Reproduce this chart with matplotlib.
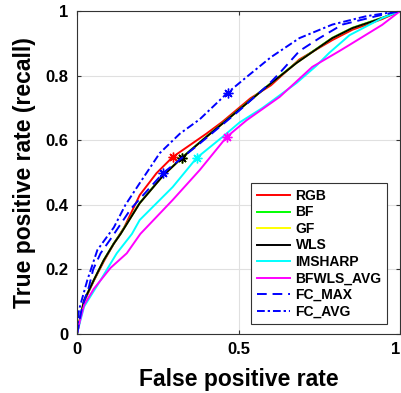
import matplotlib.pyplot as plt

plt.rcParams['font.family'] = ['Liberation Sans', 'DejaVu Sans']
plt.rcParams['font.weight'] = 'bold'

# ROC curves (false positive rate, true positive rate)
rgb_x = [0, 0.01, 0.022, 0.052, 0.083, 0.114, 0.146, 0.194, 0.246, 0.296, 0.40, 0.45, 0.537, 0.60, 0.688, 0.79, 0.852, 0.944, 1.0]
rgb_y = [0, 0.05, 0.10, 0.165, 0.225, 0.28, 0.33, 0.43, 0.498, 0.548, 0.62, 0.657, 0.73, 0.77, 0.85, 0.91, 0.942, 0.975, 1.0]
rgb_star = 9

wls_x = [0, 0.01, 0.022, 0.052, 0.083, 0.114, 0.135, 0.194, 0.266, 0.324, 0.40, 0.463, 0.574, 0.679, 0.79, 0.852, 0.944, 1.0]
wls_y = [0, 0.05, 0.104, 0.167, 0.229, 0.28, 0.31, 0.405, 0.49, 0.545, 0.61, 0.662, 0.755, 0.839, 0.916, 0.947, 0.978, 1.0]
wls_star = 9

bf_x = wls_x
bf_y = [0, 0.05, 0.104, 0.167, 0.229, 0.281, 0.311, 0.406, 0.491, 0.546, 0.611, 0.663, 0.756, 0.84, 0.917, 0.948, 0.979, 1.0]
gf_x = wls_x
gf_y = wls_y

ims_x = [0, 0.01, 0.022, 0.073, 0.123, 0.17, 0.194, 0.296, 0.37, 0.45, 0.503, 0.574, 0.679, 0.74, 0.78, 0.843, 0.944, 1.0]
ims_y = [0, 0.04, 0.085, 0.167, 0.25, 0.31, 0.353, 0.455, 0.545, 0.61, 0.655, 0.70, 0.777, 0.83, 0.87, 0.925, 0.978, 1.0]
ims_star = 8

avg_x = [0, 0.01, 0.022, 0.052, 0.104, 0.154, 0.196, 0.296, 0.38, 0.463, 0.525, 0.627, 0.728, 0.81, 0.843, 0.944, 1.0]
avg_y = [0, 0.045, 0.09, 0.14, 0.205, 0.25, 0.31, 0.415, 0.508, 0.61, 0.662, 0.734, 0.827, 0.875, 0.895, 0.957, 1.0]
avg_star = 9

fcmax_x = [0, 0.016, 0.037, 0.05, 0.073, 0.108, 0.167, 0.266, 0.38, 0.50, 0.59, 0.627, 0.688, 0.75, 0.821, 0.926, 1.0]
fcmax_y = [0, 0.085, 0.146, 0.20, 0.25, 0.30, 0.388, 0.498, 0.59, 0.69, 0.77, 0.808, 0.876, 0.916, 0.958, 0.984, 1.0]
fcmax_star = 7

fcavg_x = [0, 0.006, 0.032, 0.063, 0.092, 0.114, 0.15, 0.194, 0.256, 0.318, 0.38, 0.466, 0.53, 0.60, 0.688, 0.79, 0.895, 1.0]
fcavg_y = [0, 0.074, 0.167, 0.26, 0.30, 0.33, 0.40, 0.467, 0.56, 0.62, 0.665, 0.747, 0.80, 0.857, 0.916, 0.958, 0.984, 1.0]
fcavg_star = 11

fig = plt.figure(figsize=(4.01, 3.93), dpi=100)
ax = fig.add_axes([0.192, 0.15, 0.806, 0.822])

star = dict(marker=(8, 2, 0), ms=7, mew=1.0)
lw = 1.4
ax.plot(rgb_x, rgb_y, color='red', lw=lw, label='RGB', markevery=[rgb_star], **star)
ax.plot(bf_x, bf_y, color='#00ff00', lw=lw, label='BF', markevery=[wls_star], **star)
ax.plot(gf_x, gf_y, color='#ffff00', lw=lw, label='GF', markevery=[wls_star], **star)
ax.plot(wls_x, wls_y, color='black', lw=lw, label='WLS', markevery=[wls_star], **star)
ax.plot(ims_x, ims_y, color='cyan', lw=lw, label='IMSHARP', markevery=[ims_star], **star)
ax.plot(avg_x, avg_y, color='magenta', lw=lw, label='BFWLS_AVG', markevery=[avg_star], **star)
ax.plot(fcmax_x, fcmax_y, color='blue', lw=lw, ls=(0, (5, 3)), label='FC_MAX', markevery=[fcmax_star], **star)
ax.plot(fcavg_x, fcavg_y, color='blue', lw=lw, ls=(0, (4, 1.5, 1.2, 1.5)), label='FC_AVG', markevery=[fcavg_star], **star)

ax.set_xlim(0, 1)
ax.set_ylim(0, 1)
ax.set_xticks([0, 0.5, 1])
ax.set_xticklabels(['0', '0.5', '1'])
ax.set_yticks([0, 0.2, 0.4, 0.6, 0.8, 1])
ax.set_yticklabels(['0', '0.2', '0.4', '0.6', '0.8', '1'])
ax.tick_params(labelsize=12, direction='in', top=True, right=True, length=3, pad=6, color='#333333')
ax.get_xticklabels()[-1].set_horizontalalignment('right')
ax.grid(True, color='#e0e0e0', lw=0.8)
ax.set_axisbelow(True)
for s in ax.spines.values():
    s.set_color('#333333')
ax.set_xlabel('False positive rate', fontsize=16.5, fontweight='bold', labelpad=8)
ax.set_ylabel('True positive rate (recall)', fontsize=16.5, fontweight='bold', labelpad=7)

leg = ax.legend(loc='lower right', bbox_to_anchor=(0.96, 0.031), borderaxespad=0,
                prop={'weight': 'bold', 'size': 10},
                fancybox=False, framealpha=1, edgecolor='#333333',
                handlelength=2.4, labelspacing=0.18, handletextpad=0.4, borderpad=0.4)
leg.get_frame().set_linewidth(0.8)
for h in leg.legend_handles:
    h.set_marker('')

fig.savefig('out.png', dpi=100)
